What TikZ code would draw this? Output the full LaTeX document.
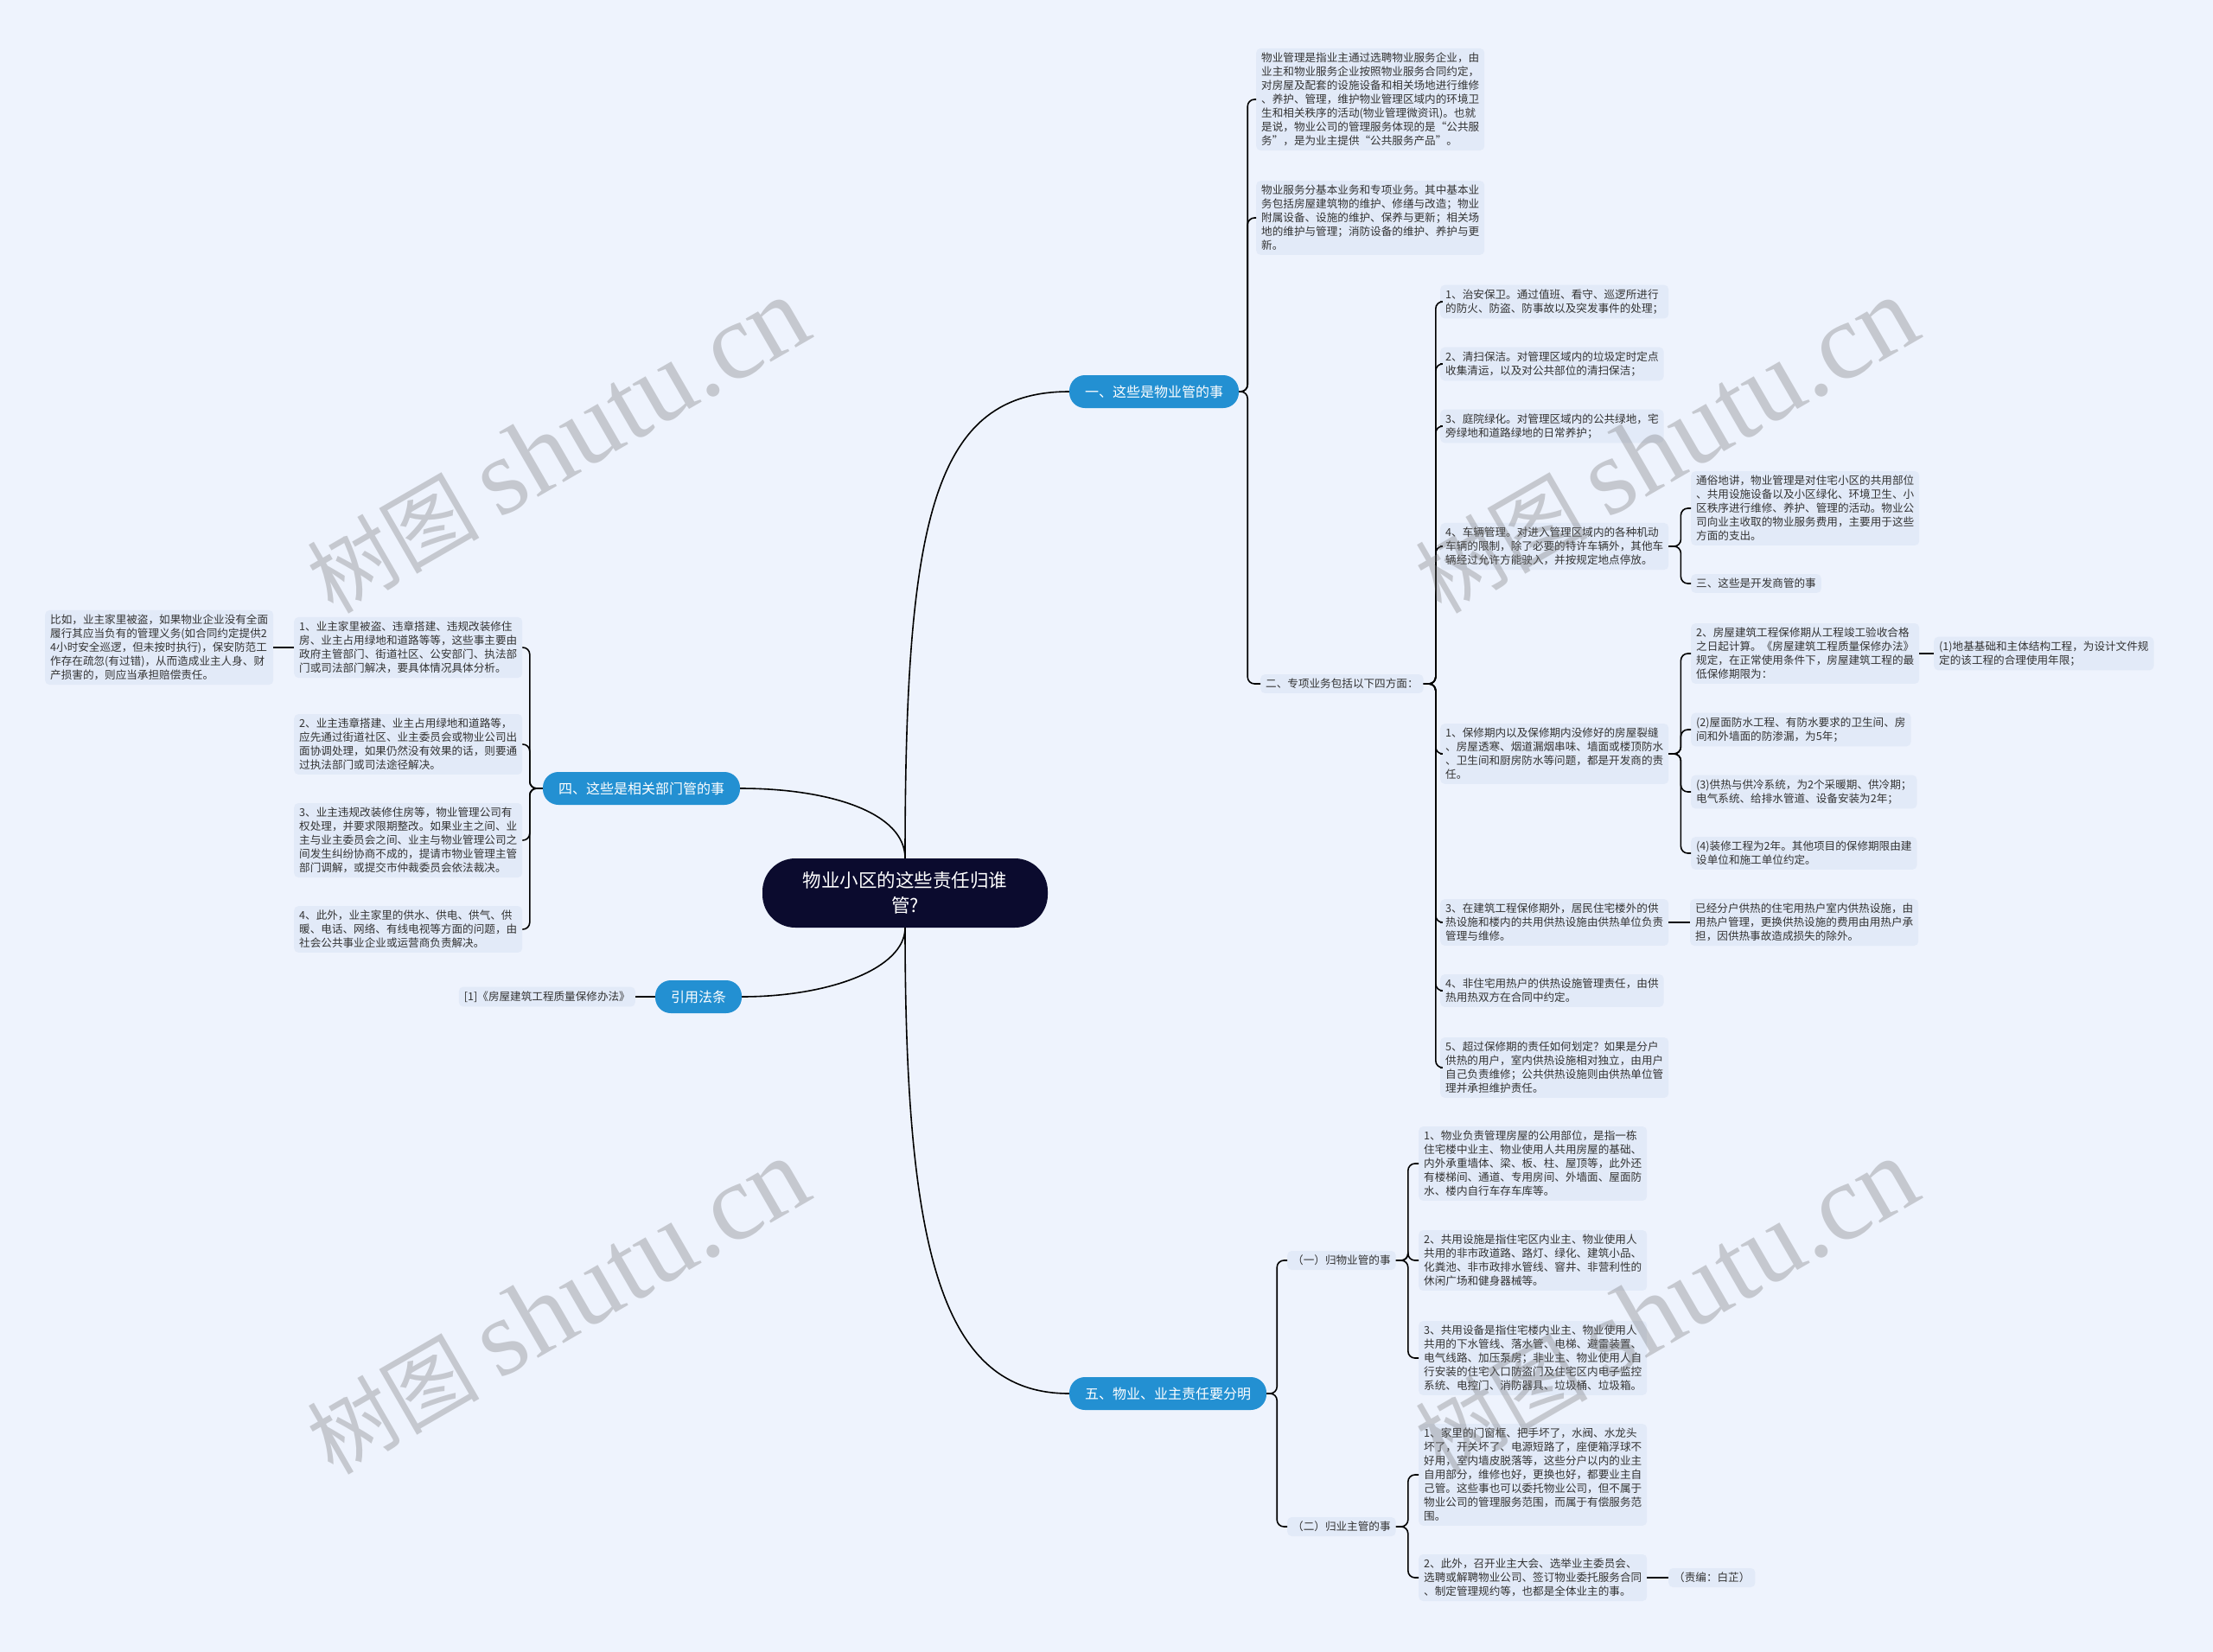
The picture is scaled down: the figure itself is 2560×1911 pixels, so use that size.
\documentclass[tikz,border=0pt]{standalone}
\usepackage{fontspec}
\setmainfont{Noto Sans CJK SC}
\newfontfamily\wmfont{Liberation Serif}

\definecolor{bgcol}{HTML}{EEF3FD}
\definecolor{leaffill}{HTML}{E2EAF8}
\definecolor{topicblue}{HTML}{2390D2}
\definecolor{rootnavy}{HTML}{0B0B2E}
\definecolor{leaftext}{HTML}{333333}

\tikzset{
  leaf/.style={fill=leaffill, rounded corners=5pt, inner xsep=6pt, inner ysep=5pt, align=left, text=leaftext, font=\fontsize{12.6}{16}\selectfont, anchor=west},
  topic/.style={fill=topicblue, text=white, rounded corners=18pt, minimum height=38pt, inner xsep=18pt, font=\fontsize{16}{20}\selectfont},
  centre/.style={fill=rootnavy, text=white, rounded corners=38pt, minimum width=330pt, minimum height=80pt, align=center, font=\fontsize{21.5}{29}\selectfont},
  link/.style={line width=1.6pt, rounded corners=8pt},
  wmtext/.style={rotate=30, text=black!55, text opacity=0.33, font=\fontsize{100}{100}\selectfont}
}

\begin{document}
\begin{tikzpicture}[x=1pt,y=-1pt]
\useasboundingbox (0,0) rectangle (2560,1911);
\fill[bgcol] (0,0) rectangle (2560,1911);

% Centre and main topics
\node[centre] (root) at (1047,1033) {物业小区的这些责任归谁\\管?};
\node[topic] (n1) at (1335,453) {一、这些是物业管的事};
\node[topic] (n4) at (742,912) {四、这些是相关部门管的事};
\node[topic] (n6) at (808,1153) {引用法条};
\node[topic] (n5) at (1351,1612) {五、物业、业主责任要分明};

% Branch one
\node[leaf] (t1) at (1453,115) {物业管理是指业主通过选聘物业服务企业，由\\业主和物业服务企业按照物业服务合同约定，\\对房屋及配套的设施设备和相关场地进行维修\\、养护、管理，维护物业管理区域内的环境卫\\生和相关秩序的活动(物业管理微资讯)。也就\\是说，物业公司的管理服务体现的是“公共服\\务”，是为业主提供“公共服务产品”。};
\node[leaf] (t2) at (1453,252) {物业服务分基本业务和专项业务。其中基本业\\务包括房屋建筑物的维护、修缮与改造；物业\\附属设备、设施的维护、保养与更新；相关场\\地的维护与管理；消防设备的维护、养护与更\\新。};
\node[leaf] (two) at (1458,791) {二、专项业务包括以下四方面：};

\node[leaf] (a1) at (1666,349) {1、治安保卫。通过值班、看守、巡逻所进行\\的防火、防盗、防事故以及突发事件的处理；};
\node[leaf] (a2) at (1666,421) {2、清扫保洁。对管理区域内的垃圾定时定点\\收集清运，以及对公共部位的清扫保洁；};
\node[leaf] (a3) at (1666,493) {3、庭院绿化。对管理区域内的公共绿地，宅\\旁绿地和道路绿地的日常养护；};
\node[leaf] (a4) at (1666,632) {4、车辆管理。对进入管理区域内的各种机动\\车辆的限制，除了必要的特许车辆外，其他车\\辆经过允许方能驶入，并按规定地点停放。};
\node[leaf] (a5) at (1666,872) {1、保修期内以及保修期内没修好的房屋裂缝\\、房屋透寒、烟道漏烟串味、墙面或楼顶防水\\、卫生间和厨房防水等问题，都是开发商的责\\任。};
\node[leaf] (a6) at (1666,1067) {3、在建筑工程保修期外，居民住宅楼外的供\\热设施和楼内的共用供热设施由供热单位负责\\管理与维修。};
\node[leaf] (a7) at (1666,1146) {4、非住宅用热户的供热设施管理责任，由供\\热用热双方在合同中约定。};
\node[leaf] (a8) at (1666,1235) {5、超过保修期的责任如何划定？如果是分户\\供热的用户，室内供热设施相对独立，由用户\\自己负责维修；公共供热设施则由供热单位管\\理并承担维护责任。};

\node[leaf] (b1) at (1956,588) {通俗地讲，物业管理是对住宅小区的共用部位\\、共用设施设备以及小区绿化、环境卫生、小\\区秩序进行维修、养护、管理的活动。物业公\\司向业主收取的物业服务费用，主要用于这些\\方面的支出。};
\node[leaf] (b2) at (1956,675) {三、这些是开发商管的事};

\node[leaf] (c1) at (1956,756) {2、房屋建筑工程保修期从工程竣工验收合格\\之日起计算。《房屋建筑工程质量保修办法》\\规定，在正常使用条件下，房屋建筑工程的最\\低保修期限为：};
\node[leaf] (c2) at (1956,844) {(2)屋面防水工程、有防水要求的卫生间、房\\间和外墙面的防渗漏，为5年；};
\node[leaf] (c3) at (1956,916) {(3)供热与供冷系统，为2个采暖期、供冷期；\\电气系统、给排水管道、设备安装为2年；};
\node[leaf] (c4) at (1956,987) {(4)装修工程为2年。其他项目的保修期限由建\\设单位和施工单位约定。};
\node[leaf] (d1) at (2237,756) {(1)地基基础和主体结构工程，为设计文件规\\定的该工程的合理使用年限；};
\node[leaf] (e1) at (1955,1067) {已经分户供热的住宅用热户室内供热设施，由\\用热户管理，更换供热设施的费用由用热户承\\担，因供热事故造成损失的除外。};

% Branch five
\node[leaf] (f1) at (1489,1458) {（一）归物业管的事};
\node[leaf] (f2) at (1489,1766) {（二）归业主管的事};
\node[leaf] (g1) at (1641,1346) {1、物业负责管理房屋的公用部位，是指一栋\\住宅楼中业主、物业使用人共用房屋的基础、\\内外承重墙体、梁、板、柱、屋顶等，此外还\\有楼梯间、通道、专用房间、外墙面、屋面防\\水、楼内自行车存车库等。};
\node[leaf] (g2) at (1641,1458) {2、共用设施是指住宅区内业主、物业使用人\\共用的非市政道路、路灯、绿化、建筑小品、\\化粪池、非市政排水管线、窨井、非营利性的\\休闲广场和健身器械等。};
\node[leaf] (g3) at (1641,1571) {3、共用设备是指住宅楼内业主、物业使用人\\共用的下水管线、落水管、电梯、避雷装置、\\电气线路、加压泵房；非业主、物业使用人自\\行安装的住宅入口防盗门及住宅区内电子监控\\系统、电控门、消防器具、垃圾桶、垃圾箱。};
\node[leaf] (h1) at (1641,1706) {1、家里的门窗框、把手坏了，水阀、水龙头\\坏了，开关坏了、电源短路了，座便箱浮球不\\好用，室内墙皮脱落等，这些分户以内的业主\\自用部分，维修也好，更换也好，都要业主自\\己管。这些事也可以委托物业公司，但不属于\\物业公司的管理服务范围，而属于有偿服务范\\围。};
\node[leaf] (h2) at (1641,1825) {2、此外，召开业主大会、选举业主委员会、\\选聘或解聘物业公司、签订物业委托服务合同\\、制定管理规约等，也都是全体业主的事。};
\node[leaf] (i1) at (1930,1825) {（责编：白芷）};

% Branch four (left side)
\node[leaf] (j1) at (340,749) {1、业主家里被盗、违章搭建、违规改装修住\\房、业主占用绿地和道路等等，这些事主要由\\政府主管部门、街道社区、公安部门、执法部\\门或司法部门解决，要具体情况具体分析。};
\node[leaf] (j2) at (340,861) {2、业主违章搭建、业主占用绿地和道路等，\\应先通过街道社区、业主委员会或物业公司出\\面协调处理，如果仍然没有效果的话，则要通\\过执法部门或司法途径解决。};
\node[leaf] (j3) at (340,972) {3、业主违规改装修住房等，物业管理公司有\\权处理，并要求限期整改。如果业主之间、业\\主与业主委员会之间、业主与物业管理公司之\\间发生纠纷协商不成的，提请市物业管理主管\\部门调解，或提交市仲裁委员会依法裁决。};
\node[leaf] (j4) at (340,1075) {4、此外，业主家里的供水、供电、供气、供\\暖、电话、网络、有线电视等方面的问题，由\\社会公共事业企业或运营商负责解决。};
\node[leaf] (k1) at (52,749) {比如，业主家里被盗，如果物业企业没有全面\\履行其应当负有的管理义务(如合同约定提供2\\4小时安全巡逻，但未按时执行)，保安防范工\\作存在疏忽(有过错)，从而造成业主人身、财\\产损害的，则应当承担赔偿责任。};
\node[leaf, anchor=east] (l1) at (735,1153) {[1]《房屋建筑工程质量保修办法》};

% Curves from the centre
\draw[link] (root.north) .. controls (1047,600) and (1080,453) .. (n1.west);
\draw[link] (root.north) .. controls (1047,940) and (960,912) .. (n4.east);
\draw[link] (root.south) .. controls (1047,1120) and (960,1153) .. (n6.east);
\draw[link] (root.south) .. controls (1047,1450) and (1090,1612) .. (n5.west);

% Brackets
\foreach \c in {t1,t2,two} \draw[link] (n1.east) -- ++(10,0) |- (\c.west);
\foreach \c in {a1,a2,a3,a4,a5,a6,a7,a8} \draw[link] (two.east) -- ++(14,0) |- (\c.west);
\foreach \c in {b1,b2} \draw[link] (a4.east) -- ++(14,0) |- (\c.west);
\foreach \c in {c1,c2,c3,c4} \draw[link] (a5.east) -- ++(14,0) |- (\c.west);
\draw[link] (c1.east) -- (d1.west);
\draw[link] (a6.east) -- (e1.west);
\foreach \c in {f1,f2} \draw[link] (n5.east) -- ++(12,0) |- (\c.west);
\foreach \c in {g1,g2,g3} \draw[link] (f1.east) -- ++(14,0) |- (\c.west);
\foreach \c in {h1,h2} \draw[link] (f2.east) -- ++(14,0) |- (\c.west);
\draw[link] (h2.east) -- (i1.west);
\foreach \c in {j1,j2,j3,j4} \draw[link] (n4.west) -- ++(-15,0) |- (\c.east);
\draw[link] (j1.west) -- (k1.east);
\draw[link] (n6.west) -- (l1.east);

% Watermarks
\foreach \wx/\wy in {645/516,1927/516,645/1512,1927/1512}
  \node[wmtext] at (\wx,\wy) {树图 {\wmfont\fontsize{126}{126}\selectfont shutu.cn}};
\end{tikzpicture}
\end{document}
